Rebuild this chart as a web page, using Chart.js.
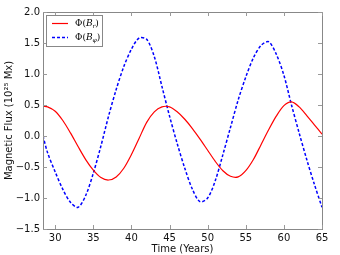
<!DOCTYPE html>
<html><head><meta charset="utf-8">
<script src="https://cdn.jsdelivr.net/npm/chart.js@4.4.0/dist/chart.umd.min.js"></script>
<style>html,body{margin:0;padding:0;background:#fff}#wrap{width:340px;height:255px}</style>
</head><body><div id="wrap"><canvas id="c" width="340" height="255"></canvas></div>
<script>
const years = [28.4,29,30,31,32,33,34,35,36,37,38,39,40,41,42,43,44,45,46,47,48,49,50,51,52,53,54,55,56,57,58,59,60,61,62,63,64,65];
const fluxR = [0.48,0.47,0.40,0.25,0.05,-0.17,-0.38,-0.55,-0.67,-0.71,-0.66,-0.52,-0.30,-0.04,0.22,0.39,0.47,0.47,0.39,0.27,0.12,-0.05,-0.23,-0.41,-0.56,-0.65,-0.66,-0.56,-0.38,-0.14,0.10,0.32,0.49,0.55,0.47,0.33,0.18,0.03];
const fluxPhi = [0.0,-0.27,-0.58,-0.86,-1.07,-1.15,-0.96,-0.60,-0.16,0.32,0.75,1.12,1.40,1.58,1.56,1.28,0.80,0.32,-0.12,-0.52,-0.86,-1.06,-1.00,-0.72,-0.30,0.14,0.58,0.95,1.26,1.46,1.52,1.32,0.98,0.50,0.05,-0.38,-0.78,-1.15];
const xTicks = [30,35,40,45,50,55,60,65];
const yTicks = [-1.5,-1.0,-0.5,0.0,0.5,1.0,1.5,2.0];
const legendLabels = [["Φ(","B","r",")"],["Φ(","B","φ",")"]];

const FONT = "DejaVu Sans";
const pts = (ys) => years.map((x,i)=>({x:x,y:ys[i]}));

const framePlugin = {
  id:'frame',
  afterDatasetsDraw(chart){
    const {ctx, chartArea:a, scales} = chart;
    ctx.save();
    ctx.strokeStyle = '#888';
    ctx.lineWidth = 1;
    ctx.strokeRect(Math.round(a.left)+0.5, Math.round(a.top)+0.5, Math.round(a.right-a.left), Math.round(a.bottom-a.top));
    ctx.strokeStyle = '#999';
    ctx.beginPath();
    scales.x.ticks.forEach(t=>{
      const px = Math.round(scales.x.getPixelForValue(t.value))+0.5;
      ctx.moveTo(px,a.bottom); ctx.lineTo(px,a.bottom-4);
      ctx.moveTo(px,a.top); ctx.lineTo(px,a.top+4);
    });
    scales.y.ticks.forEach(t=>{
      const py = Math.round(scales.y.getPixelForValue(t.value))+0.5;
      ctx.moveTo(a.left,py); ctx.lineTo(a.left+4,py);
      ctx.moveTo(a.right,py); ctx.lineTo(a.right-4,py);
    });
    ctx.stroke();
    // legend
    const lx = a.left+3, ly = a.top+3, lw = 56, lh = 31;
    ctx.fillStyle='#fff';
    ctx.fillRect(lx,ly,lw,lh);
    ctx.strokeStyle='#888';
    ctx.strokeRect(lx+0.5,ly+0.5,lw,lh);
    chart.data.datasets.forEach((ds,i)=>{
      const yy = ly + 8.5 + i*14;
      ctx.strokeStyle = ds.borderColor;
      ctx.lineWidth = ds.borderWidth;
      ctx.setLineDash(ds.borderDash||[]);
      ctx.beginPath(); ctx.moveTo(lx+6,yy); ctx.lineTo(lx+22,yy); ctx.stroke();
      ctx.setLineDash([]);
      const parts = legendLabels[i];
      let tx = lx+29;
      ctx.fillStyle='#000';
      ctx.textBaseline='middle';
      ctx.font = "9px DejaVu Serif";
      ctx.fillText(parts[0],tx,yy); tx += ctx.measureText(parts[0]).width;
      ctx.font = "italic 9px DejaVu Serif";
      ctx.fillText(parts[1],tx,yy); tx += ctx.measureText(parts[1]).width;
      ctx.font = "italic 6px DejaVu Serif";
      ctx.fillText(parts[2],tx,yy+2.5); tx += ctx.measureText(parts[2]).width;
      ctx.font = "9px DejaVu Serif";
      ctx.fillText(parts[3],tx,yy);
    });
    ctx.restore();
  }
};

new Chart(document.getElementById('c'),{
  type:'line',
  data:{datasets:[
    {label:'Φ(Br)',data:pts(fluxR),borderColor:'#ff0000',borderWidth:1.2,pointRadius:0,tension:0.3,fill:false},
    {label:'Φ(Bφ)',data:pts(fluxPhi),borderColor:'#0000ff',borderWidth:1.5,borderDash:[3,2],pointRadius:0,tension:0.3,fill:false}
  ]},
  options:{
    responsive:false,animation:false,devicePixelRatio:1,
    layout:{padding:{top:12,right:18,left:0,bottom:0}},
    plugins:{legend:{display:false},tooltip:{enabled:false}},
    scales:{
      x:{type:'linear',min:28.4,max:65,
        afterBuildTicks(s){s.ticks = xTicks.map(v=>({value:v}));},
        afterFit(s){s.height=26;},
        grid:{display:false,drawTicks:false},border:{display:false},
        ticks:{padding:3,color:'#111',font:{family:FONT,size:10},maxRotation:0,callback:v=>String(v)},
        title:{display:true,text:'Time (Years)',color:'#111',font:{family:FONT,size:10},padding:{top:0,bottom:0}}
      },
      y:{type:'linear',min:-1.5,max:2.0,
        afterBuildTicks(s){s.ticks = yTicks.map(v=>({value:v}));},
        afterFit(s){s.width=43;},
        grid:{display:false,drawTicks:false},border:{display:false},
        ticks:{padding:3,color:'#111',font:{family:FONT,size:10},callback:v=>(v<0?'−':'')+Math.abs(v).toFixed(1)},
        title:{display:true,text:'Magnetic Flux (10²⁵ Mx)',color:'#111',font:{family:FONT,size:10},padding:{top:3,bottom:0}}
      }
    }
  },
  plugins:[framePlugin]
});
</script></body></html>
